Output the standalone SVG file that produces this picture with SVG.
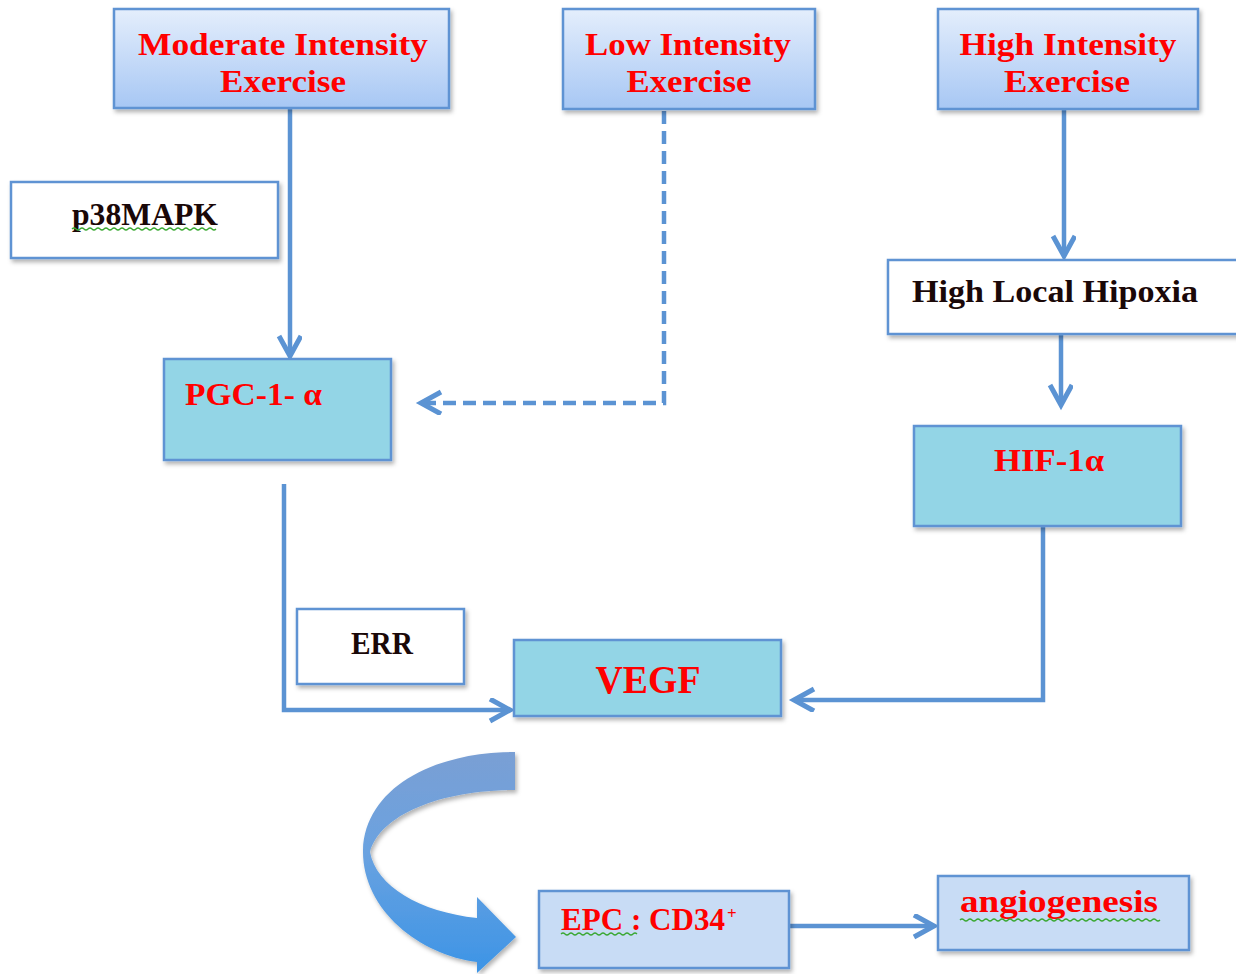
<svg xmlns="http://www.w3.org/2000/svg" width="1236" height="974" viewBox="0 0 1236 974">
<style>
.box{stroke:#5f93d3;stroke-width:2.5}
.top{fill:url(#gTop)}
.cyan{fill:#93d5e6}
.white{fill:#ffffff}
.lb{fill:#c8dcf5}
.t{font-family:"Liberation Serif","DejaVu Serif",serif;font-weight:bold}
.red{fill:#ff0000}
.blk{fill:#1a0808}
.con{fill:none;stroke:#5b93d3;stroke-width:4.5}
.dash{stroke-dasharray:13 7}
.sq{fill:none;stroke:#3aa832;stroke-width:1.3}
</style>
<defs>
<linearGradient id="gTop" x1="0" y1="0" x2="0" y2="1">
<stop offset="0" stop-color="#e4eefc"/>
<stop offset="1" stop-color="#a7c7f4"/>
</linearGradient>
<linearGradient id="gArc" x1="0" y1="0" x2="0" y2="1">
<stop offset="0" stop-color="#7a9fd4"/>
<stop offset="0.45" stop-color="#6aa2e0"/>
<stop offset="1" stop-color="#3c94e6"/>
</linearGradient>
<filter id="sh" x="-10%" y="-10%" width="125%" height="130%">
<feDropShadow dx="2" dy="3" stdDeviation="2" flood-color="#000" flood-opacity="0.3"/>
</filter>
<marker id="ah" markerUnits="userSpaceOnUse" markerWidth="30" markerHeight="30" refX="22" refY="12" orient="auto">
<path d="M2 1 L22 12 L2 23" fill="none" stroke="#5b93d3" stroke-width="5" stroke-linejoin="miter"/>
</marker>
</defs>
<rect width="1236" height="974" fill="#ffffff"/>

<g id="connectors">
<path class="con" d="M290 109 L290 356" marker-end="url(#ah)"/>
<path class="con dash" d="M664 111 L664 403 L421 403" marker-end="url(#ah)"/>
<path class="con" d="M1064 110 L1064 256" marker-end="url(#ah)"/>
<path class="con" d="M1061 335 L1061 405" marker-end="url(#ah)"/>
<path class="con" d="M284 484 L284 710 L510 710" marker-end="url(#ah)"/>
<path class="con" d="M1043 500 L1043 700 L794 700" marker-end="url(#ah)"/>
<path class="con" d="M790 926 L934 926" marker-end="url(#ah)"/>
<path id="curved-arrow" d="M515 752 C430 752 365 790 363 850 C362 910 420 955 477 962 L477 973 L516 937 L477 897 L477 918 C420 912 376 886 370 852 C380 815 440 790 515 790 Z" fill="url(#gArc)" filter="url(#sh)"/>
</g>

<g id="moderate">
<rect class="box top" x="114" y="9" width="335" height="99" filter="url(#sh)"/>
<text class="t red" x="283" y="55" font-size="32" text-anchor="middle" textLength="290" lengthAdjust="spacingAndGlyphs">Moderate Intensity</text>
<text class="t red" x="283" y="92" font-size="32" text-anchor="middle" textLength="126" lengthAdjust="spacingAndGlyphs">Exercise</text>
</g>
<g id="low">
<rect class="box top" x="563" y="9" width="252" height="100" filter="url(#sh)"/>
<text class="t red" x="688" y="55" font-size="32" text-anchor="middle" textLength="206" lengthAdjust="spacingAndGlyphs">Low Intensity</text>
<text class="t red" x="689" y="92" font-size="32" text-anchor="middle" textLength="125" lengthAdjust="spacingAndGlyphs">Exercise</text>
</g>
<g id="high">
<rect class="box top" x="938" y="9" width="260" height="100" filter="url(#sh)"/>
<text class="t red" x="1068" y="55" font-size="32" text-anchor="middle" textLength="217" lengthAdjust="spacingAndGlyphs">High Intensity</text>
<text class="t red" x="1067" y="92" font-size="32" text-anchor="middle" textLength="126" lengthAdjust="spacingAndGlyphs">Exercise</text>
</g>
<g id="p38mapk">
<rect class="box white" x="11" y="182" width="267" height="76" filter="url(#sh)"/>
<text class="t blk" x="145" y="225" font-size="31" text-anchor="middle" textLength="146" lengthAdjust="spacingAndGlyphs">p38MAPK</text>
<path class="sq" d="M72 229 q2 -2 4 0 t4 0 t4 0 t4 0 t4 0 t4 0 t4 0 t4 0 t4 0 t4 0 t4 0 t4 0 t4 0 t4 0 t4 0 t4 0 t4 0 t4 0 t4 0 t4 0 t4 0 t4 0 t4 0 t4 0 t4 0 t4 0 t4 0 t4 0 t4 0 t4 0 t4 0 t4 0 t4 0 t4 0 t4 0 t4 0"/>
</g>
<g id="pgc1a">
<rect class="box cyan" x="164" y="359" width="227" height="101" filter="url(#sh)"/>
<text class="t red" x="185" y="405" font-size="32" textLength="137" lengthAdjust="spacingAndGlyphs">PGC-1- α</text>
</g>
<g id="hipoxia">
<rect class="box white" x="888" y="260" width="350" height="74" filter="url(#sh)"/>
<text class="t blk" x="912" y="302" font-size="31" textLength="286" lengthAdjust="spacingAndGlyphs">High Local Hipoxia</text>
</g>
<g id="hif1a">
<rect class="box cyan" x="914" y="426" width="267" height="100" filter="url(#sh)"/>
<text class="t red" x="1049" y="471" font-size="32" text-anchor="middle" textLength="110" lengthAdjust="spacingAndGlyphs">HIF-1α</text>
</g>
<g id="err">
<rect class="box white" x="297" y="609" width="167" height="75" filter="url(#sh)"/>
<text class="t blk" x="382" y="654" font-size="31" text-anchor="middle" textLength="62" lengthAdjust="spacingAndGlyphs">ERR</text>
</g>
<g id="vegf">
<rect class="box cyan" x="514" y="640" width="267" height="76" filter="url(#sh)"/>
<text class="t red" x="648" y="693" font-size="41" text-anchor="middle" textLength="105" lengthAdjust="spacingAndGlyphs">VEGF</text>
</g>
<g id="epc">
<rect class="box lb" x="539" y="891" width="250" height="77" filter="url(#sh)"/>
<text class="t red" x="561" y="930" font-size="31" textLength="164" lengthAdjust="spacingAndGlyphs">EPC : CD34</text>
<text class="t red" x="727" y="919" font-size="17">+</text>
<path class="sq" d="M561 934 q2 -2 4 0 t4 0 t4 0 t4 0 t4 0 t4 0 t4 0 t4 0 t4 0 t4 0 t4 0 t4 0 t4 0 t4 0 t4 0 t4 0 t4 0 t4 0 t4 0"/>
</g>
<g id="angiogenesis">
<rect class="box lb" x="938" y="876" width="251" height="74" filter="url(#sh)"/>
<text class="t red" x="960" y="912" font-size="31" textLength="198" lengthAdjust="spacingAndGlyphs">angiogenesis</text>
<path class="sq" d="M960 920 q2 -2 4 0 t4 0 t4 0 t4 0 t4 0 t4 0 t4 0 t4 0 t4 0 t4 0 t4 0 t4 0 t4 0 t4 0 t4 0 t4 0 t4 0 t4 0 t4 0 t4 0 t4 0 t4 0 t4 0 t4 0 t4 0 t4 0 t4 0 t4 0 t4 0 t4 0 t4 0 t4 0 t4 0 t4 0 t4 0 t4 0 t4 0 t4 0 t4 0 t4 0 t4 0 t4 0 t4 0 t4 0 t4 0 t4 0 t4 0 t4 0 t4 0 t4 0"/>
</g>
</svg>
